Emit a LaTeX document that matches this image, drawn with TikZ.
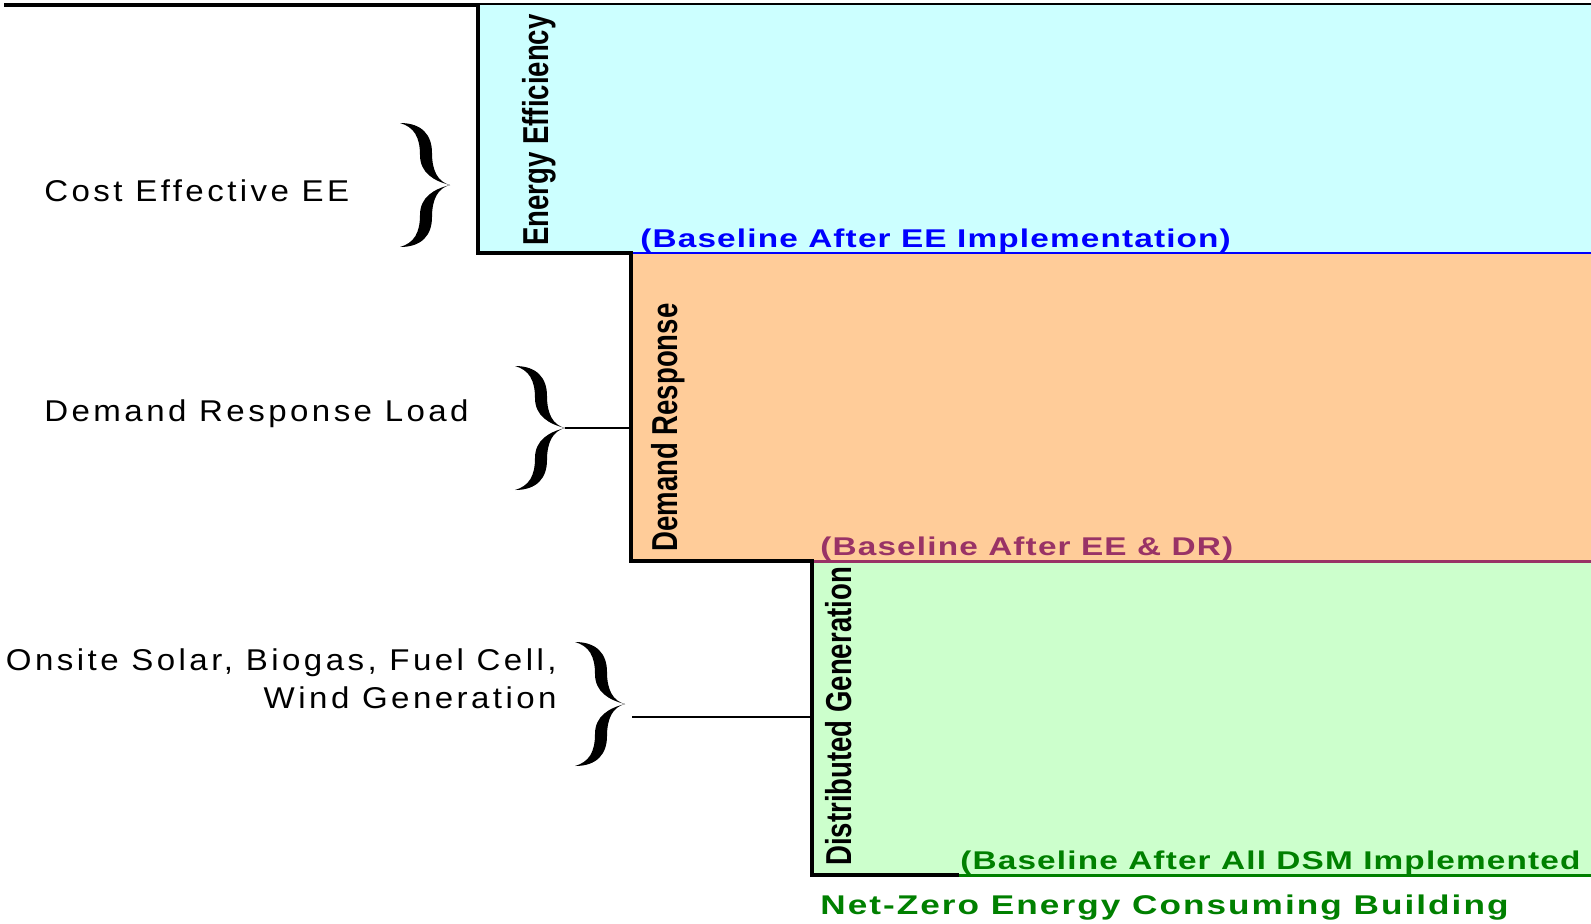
\documentclass[tikz,border=0pt]{standalone}
\usepackage{fontspec}
\setmainfont{Liberation Sans}
\newfontfamily\sidelblfont[LetterSpace=11.5, FakeStretch=1.1]{Liberation Sans}
\newfontfamily\dsmbasefont[LetterSpace=4.5, FakeStretch=1.3]{Liberation Sans}
\newfontfamily\netzerofont[LetterSpace=7.5, FakeStretch=1.3]{Liberation Sans}
\newfontfamily\barlblfont[FakeStretch=0.765]{Liberation Sans}

\definecolor{eefill}{HTML}{CCFFFF}
\definecolor{drfill}{HTML}{FFCC99}
\definecolor{dgfill}{HTML}{CCFFCC}
\definecolor{eeline}{HTML}{0000FF}
\definecolor{drline}{HTML}{993366}
\definecolor{dgline}{HTML}{008000}

% curly brace, tip at the origin, arms to the left
\tikzset{curlybrace/.pic={
  \foreach \s in {1,-1}
    \fill[yscale=\s] (0,0) .. controls (-16,-4) and (-30,-12) .. (-30,-30)
      .. controls (-30,-48) and (-36,-58) .. (-50,-62)
      .. controls (-28,-62) and (-18,-50) .. (-18,-32)
      .. controls (-18,-14) and (-12,-3) .. (0,0) -- cycle;
  \coordinate (-tip) at (0,0);
}}

\begin{document}
\begin{tikzpicture}[x=0.02cm, y=-0.02cm,
  sidelabel/.style={inner sep=0, font=\sidelblfont\fontsize{17.1}{21}\selectfont},
  baselabel/.style={inner sep=0, anchor=base west,
    font=\dsmbasefont\bfseries\fontsize{14.6}{18}\selectfont},
  barlabel/.style={inner sep=0, rotate=90, anchor=base west,
    font=\barlblfont\bfseries\fontsize{20.5}{24}\selectfont}]

\useasboundingbox (0,0) rectangle (1591,923);

% top rule
\draw[line width=2pt] (4,5) -- (1591,5);

% the three stacked bars
\fill[eefill] (478,5) rectangle (1591,253);
\fill[drfill] (631,253) rectangle (1591,561);
\fill[dgfill] (812,561) rectangle (1591,875);

\coordinate (eeleft) at (478,5);
\coordinate (drleft) at (631,253);
\coordinate (dgleft) at (812,561);
\coordinate (dgend) at (959,875);

% coloured baselines, then the black steps
\draw[line width=1.7pt, eeline] (drleft) -- (1591,253);
\draw[line width=1.7pt, drline] (dgleft) -- (1591,561);
\draw[line width=1.7pt, dgline] (dgend) -- (1591,875);
\draw[line width=2pt] (eeleft) |- (drleft) |- (dgleft) |- (dgend);

% bar names
\path
(548,246) node [barlabel] (eename) {Energy Efficiency}
(677,552) node [barlabel] (drname) {Demand Response}
(851,866) node [barlabel] (dgname) {Distributed Generation};

% baselines
\path
(640,247) node [baselabel, text=eeline] (eebase) {(Baseline After EE Implementation)}
(820,555) node [baselabel, text=drline] (drbase) {(Baseline After EE \& DR)}
(960,869) node [baselabel, text=dgline] (dgbase) {(Baseline After All DSM Implemented};
\path
(820,914) node [inner sep=0, anchor=base west, text=dgline,
  font=\netzerofont\bfseries\fontsize{15.4}{19}\selectfont] (netzero)
{Net-Zero Energy Consuming Building};

% side texts with their braces
\path
(44,201) node [sidelabel, anchor=base west] (eetext) {Cost Effective EE}
(44,421) node [sidelabel, anchor=base west] (drtext) {Demand Response Load}
(557,670) node [sidelabel, anchor=base east] (dgtext) {Onsite Solar, Biogas, Fuel Cell,}
(557,708) node [sidelabel, anchor=base east] (dgtexttwo) {Wind Generation};

\pic (eebrace) at (450,185) {curlybrace};
\pic (drbrace) at (565,428) {curlybrace};
\pic (dgbrace) at (625,704) {curlybrace};

\coordinate (dgstub) at (632,717);
\draw[line width=1.1pt] (drbrace-tip) -- (drbrace-tip -| drleft);
\draw[line width=1.1pt] (dgstub) -- (dgstub -| dgleft);

\end{tikzpicture}
\end{document}
